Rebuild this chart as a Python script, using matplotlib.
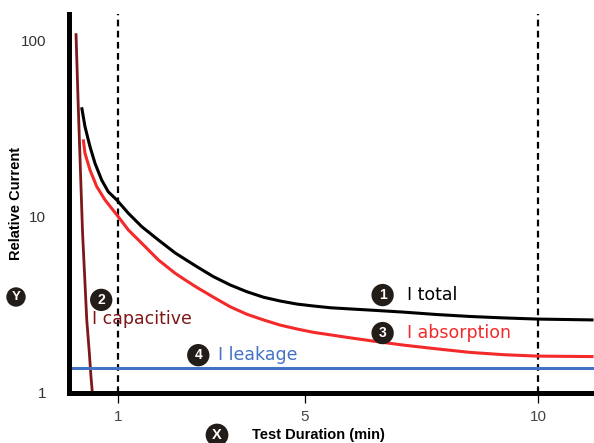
import matplotlib
matplotlib.use("Agg")
import matplotlib.pyplot as plt

# data (x in minutes, y relative current)
total_x = [0.221, 0.292, 0.399, 0.506, 0.650, 0.792, 0.972, 1.221, 1.509, 1.865,
           2.223, 2.438, 2.689, 3.045, 3.403, 3.762, 4.118, 4.476, 4.835, 5.191,
           5.549, 5.908, 6.479, 7.122, 7.839, 8.554, 9.268, 9.985, 11.19]
total_y = [42.0, 32.6, 25.1, 20.2, 16.2, 13.9, 12.5, 10.5, 8.81, 7.40,
           6.25, 5.75, 5.22, 4.58, 4.11, 3.76, 3.50, 3.33, 3.20, 3.12,
           3.05, 3.01, 2.95, 2.88, 2.79, 2.72, 2.67, 2.63, 2.60]

absorb_x = [0.255, 0.292, 0.399, 0.543, 0.721, 0.972, 1.221, 1.509, 1.865,
            2.223, 2.438, 2.689, 3.045, 3.403, 3.762, 4.118, 4.476, 4.835, 5.191,
            5.549, 5.908, 6.479, 7.122, 7.839, 8.554, 9.268, 9.985, 11.19]
absorb_y = [27.6, 23.0, 18.5, 14.9, 12.5, 10.3, 8.44, 7.09, 5.70,
            4.79, 4.39, 3.98, 3.50, 3.09, 2.80, 2.60, 2.43, 2.31, 2.21,
            2.14, 2.07, 1.97, 1.87, 1.78, 1.70, 1.65, 1.62, 1.61]

cap_x = [0.099, 0.148, 0.24, 0.33, 0.385, 0.42, 0.45]
cap_y = [110.6, 42.3, 8.1, 2.6, 1.69, 1.24, 1.0]

leak_x = [-0.04, 11.2]
leak_y = [1.39, 1.39]

xticks = [1, 5, 10]
marker_lines = [1, 10]

c_total = "#000000"
c_abs = "#f42a2a"
c_cap = "#7d1719"
c_leak = "#4472c4"
c_dot = "#231d19"

fig = plt.figure(figsize=(5.94, 4.43), dpi=100)
ax = fig.add_axes([0.117, 0.1129, 0.883, 0.8555])

ax.set_yscale("log")
ax.set_xlim(-0.04, 11.2)
ax.set_ylim(1, 142.3)

ax.plot(total_x, total_y, color=c_total, lw=2.2, solid_capstyle="butt", solid_joinstyle="round")
ax.plot(absorb_x, absorb_y, color=c_abs, lw=2.2, solid_capstyle="butt", solid_joinstyle="round")
ax.plot(cap_x, cap_y, color=c_cap, lw=2.0, solid_capstyle="butt", solid_joinstyle="round")
ax.plot(leak_x, leak_y, color=c_leak, lw=2.2)

for xv in marker_lines:
    ax.axvline(xv, color="black", lw=1.6, ls=(0, (3, 2)), zorder=1)

# spines
for s in ["top", "right"]:
    ax.spines[s].set_visible(False)
for s in ["left", "bottom"]:
    ax.spines[s].set_linewidth(3.6)
    ax.spines[s].set_capstyle("projecting")

ax.set_xticks(xticks)
ax.set_xticklabels([str(v) for v in xticks])
ax.tick_params(axis="x", direction="out", length=7, width=0.9, pad=5,
               labelsize=11, labelcolor="#444444")
ax.set_yticks([1, 10, 100])
ax.set_yticklabels(["1", "10", "100"])
ax.yaxis.set_minor_locator(matplotlib.ticker.NullLocator())
ax.tick_params(axis="y", length=0, pad=17, labelsize=11, labelcolor="#333333")
for lab in ax.get_xticklabels() + ax.get_yticklabels():
    lab.set_fontfamily("Liberation Sans")

# axis titles
fig.text(318 / 594, 1 - 435 / 443, "Test Duration (min)", ha="center", va="center",
         fontsize=10.5, fontweight="bold", family="Liberation Sans")
fig.text(16 / 594, 1 - 203 / 443, "Relative Current", ha="center", va="center",
         rotation=90, fontsize=10.5, fontweight="bold", family="Liberation Sans")


def dot(x, y, s, trans, size=10, pad=0.3):
    t = ax.text(x, y, s, transform=trans, ha="center", va="center", color="white",
                fontsize=size, fontweight="bold", family="Liberation Sans",
                bbox=dict(boxstyle="circle,pad=%.2f" % pad, fc=c_dot, ec="none"),
                clip_on=False)
    return t


dot(217 / 594, 1 - 435 / 443, "X", fig.transFigure, size=10.5, pad=0.3)
dot(16 / 594, 1 - 297 / 443, "Y", fig.transFigure, size=9.5, pad=0.28)

# series labels
dot(6.67, 3.60, "1", ax.transData)
ax.text(7.20, 3.60, "I total", color="black", fontsize=12.5, va="center")
dot(6.67, 2.19, "3", ax.transData)
ax.text(7.20, 2.19, "I absorption", color=c_abs, fontsize=12.5, va="center")
dot(0.64, 3.38, "2", ax.transData)
ax.text(0.44, 2.63, "I capacitive", color=c_cap, fontsize=12.5, va="center")
dot(2.72, 1.64, "4", ax.transData)
ax.text(3.15, 1.64, "I leakage", color=c_leak, fontsize=12.5, va="center")

fig.savefig("out.png", dpi=100)
